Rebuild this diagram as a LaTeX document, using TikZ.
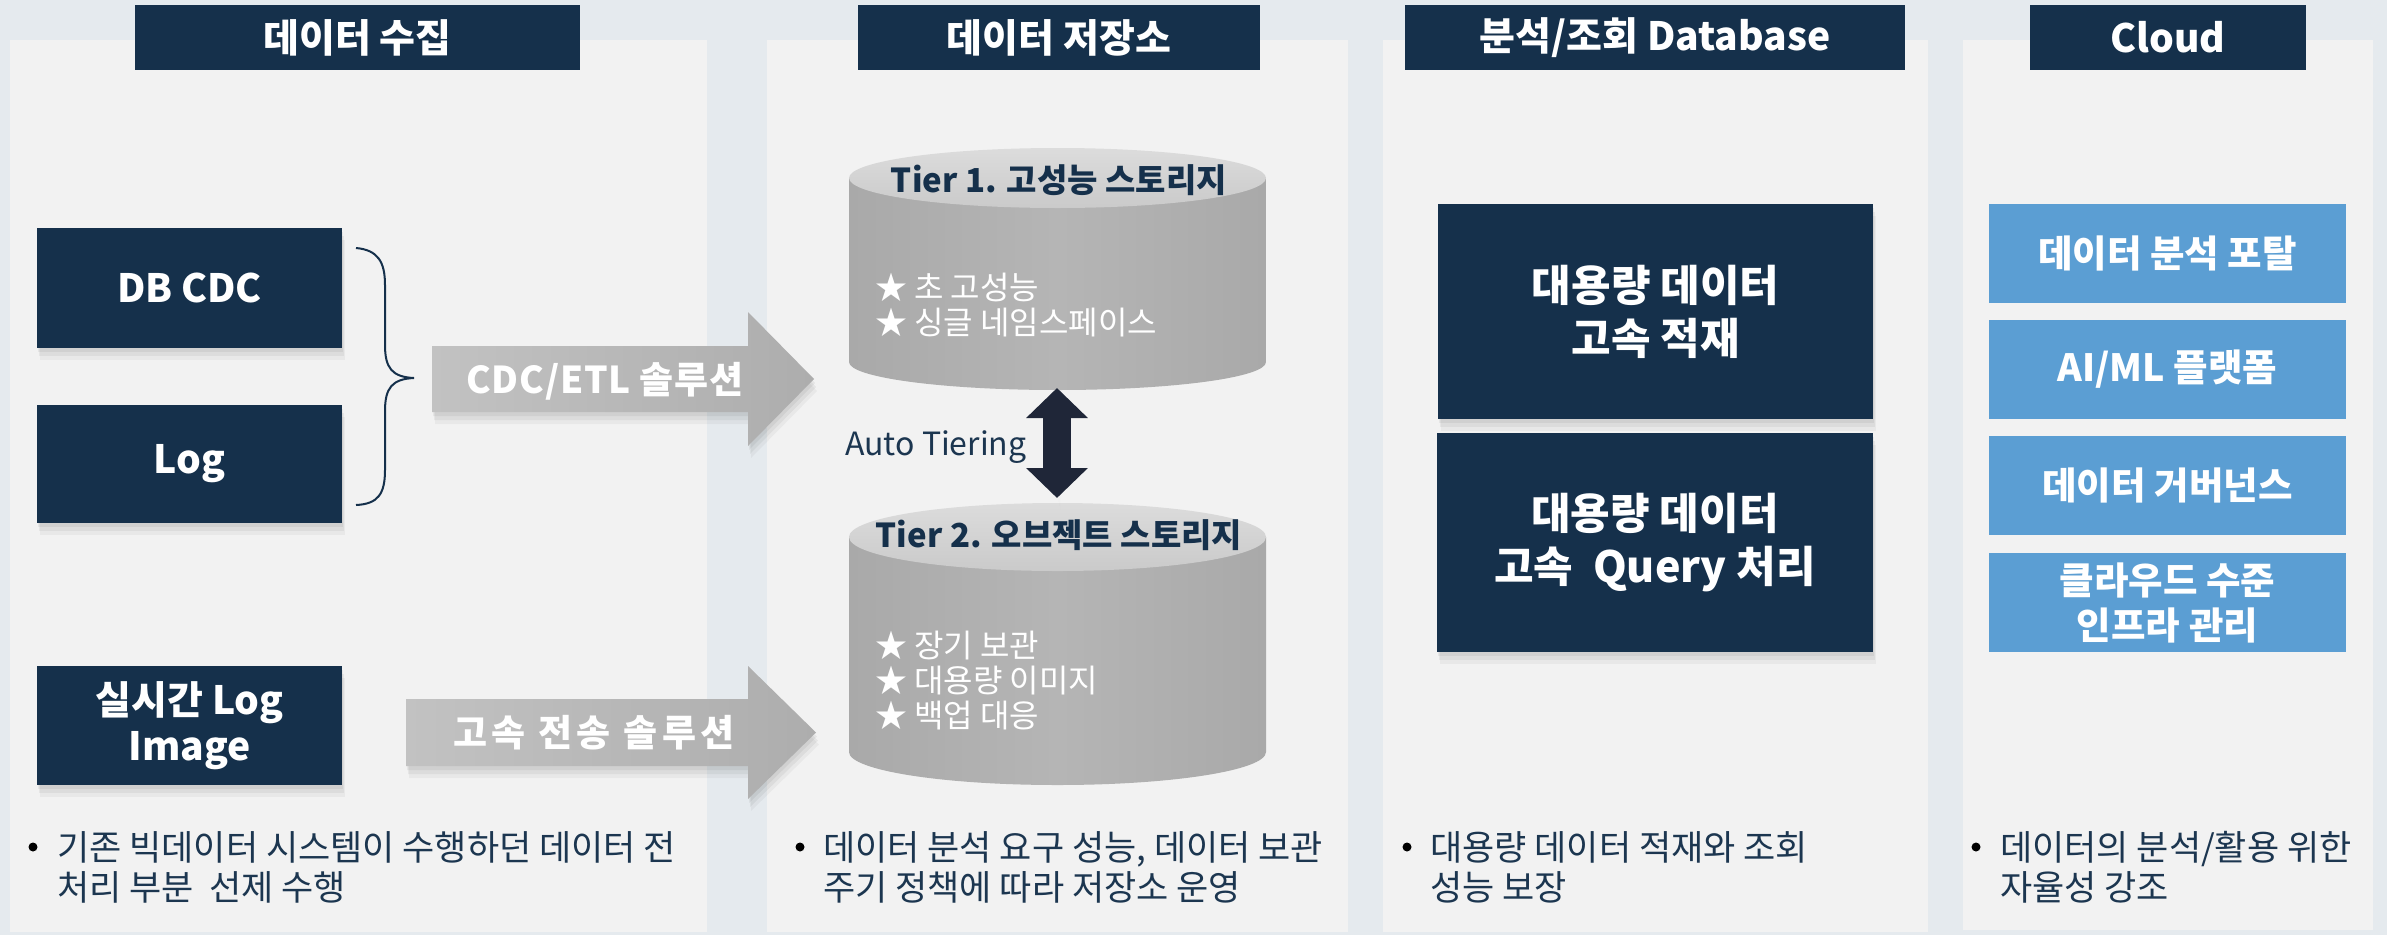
\documentclass[tikz,border=0pt]{standalone}
\usepackage{fontspec}
\setmainfont{Noto Sans CJK KR}
\usetikzlibrary{shadows,arrows.meta}
\definecolor{bgc}{HTML}{E5EAEE}
\definecolor{panelc}{HTML}{F2F2F2}
\definecolor{navy}{HTML}{15304B}
\definecolor{skyb}{HTML}{5B9ED3}
\definecolor{txtnavy}{HTML}{1C3650}
\definecolor{darr}{HTML}{1F2638}
\definecolor{cylside}{HTML}{A9A9A9}
\definecolor{cylmid}{HTML}{B5B5B5}
\definecolor{cyltopa}{HTML}{DCDCDC}
\definecolor{cyltopb}{HTML}{CACACA}
\definecolor{arra}{HTML}{C2C2C2}
\definecolor{arrb}{HTML}{ADADAD}
\tikzset{
  softshadow/.style={
    general shadow={fill=black, opacity=0.05, shadow yshift=-4pt, shadow xshift=1pt},
    general shadow={fill=black, opacity=0.05, shadow yshift=-8pt, shadow xshift=2pt},
    general shadow={fill=black, opacity=0.04, shadow yshift=-12pt, shadow xshift=3pt}},
  titlebox/.style={fill=navy, text=white, inner sep=0pt, font=\bfseries\fontsize{39}{46}\selectfont},
  navybox/.style={fill=navy, text=white, inner sep=0pt, align=center, softshadow, font=\bfseries\fontsize{39}{46}\selectfont},
  dbbox/.style={fill=navy, text=white, inner sep=0pt, align=center, softshadow, font=\bfseries\fontsize{43}{53}\selectfont},
  cloudbox/.style={fill=skyb, text=white, inner sep=0pt, align=center, font=\bfseries\fontsize{37.5}{45}\selectfont},
  arrowtext/.style={text=white, inner sep=0pt, text height=32pt, text depth=4pt, font=\bfseries\fontsize{37}{44}\selectfont},
  grayarrow/.style={left color=arra, right color=arrb, softshadow},
  cylbody/.style={left color=cylside, right color=cylside, middle color=cylmid},
  cyltop/.style={top color=cyltopa, bottom color=cyltopb},
  cyltitle/.style={text=navy, inner sep=0pt, text height=29pt, text depth=4pt, font=\bfseries\fontsize{33}{40}\selectfont},
  starline/.style={text=white, inner sep=0pt, anchor=west, text height=28.2pt, text depth=3.8pt, font=\fontsize{32}{35}\selectfont},
  bline/.style={text=txtnavy, inner sep=0pt, anchor=west, text height=30.8pt, text depth=4.2pt, font=\fontsize{35}{40}\selectfont},
  bdot/.style={circle, fill=black, inner sep=0pt, minimum size=9pt},
  tierlabel/.style={text=txtnavy, inner sep=0pt, anchor=west, text height=28pt, text depth=4pt, font=\fontsize{32}{40}\selectfont},
}
\begin{document}
\begin{tikzpicture}[x=1pt,y=1pt]
\useasboundingbox (0,0) rectangle (2387,-935);
\fill[bgc] (0,0) rectangle (2387,-935);
% panels
\fill[panelc] (10,-40) rectangle (707,-932);
\fill[panelc] (767,-40) rectangle (1348,-932);
\fill[panelc] (1383,-40) rectangle (1928,-932);
\fill[panelc] (1963,-40) rectangle (2373,-930);
% titles
\node[titlebox, minimum width=445pt, minimum height=65pt] (t1) at (357.5,-37.5) {데이터 수집};
\node[titlebox, minimum width=402pt, minimum height=65pt] (t2) at (1059,-37.5) {데이터 저장소};
\node[titlebox, minimum width=500pt, minimum height=65pt] (t3) at (1655,-37.5) {분석/조회 Database};
\node[titlebox, minimum width=276pt, minimum height=65pt] (t4) at (2168,-37.5) {Cloud};
% source boxes
\node[navybox, minimum width=305pt, minimum height=120pt] (dbcdc) at (189.5,-288) {DB CDC};
\node[navybox, minimum width=305pt, minimum height=118pt] (log) at (189.5,-464) {Log};
\node[navybox, minimum width=305pt, minimum height=119pt] (rtlog) at (189.5,-725.5) {실시간 Log\\Image};
% brace
\coordinate (brt) at (356,-248);
\coordinate (brtip) at (414,-378);
\coordinate (brb) at (356,-505);
\draw[navy, line width=2pt] (brt) .. controls (378,-250) and (385,-262) .. (385,-285) -- (385,-345)
  .. controls (385,-368) and (392,-377) .. (brtip)
  .. controls (392,-379) and (385,-388) .. (385,-411) -- (385,-470)
  .. controls (385,-494) and (378,-504) .. (brb);
% gray arrows
\shade[grayarrow] (432,-346) -- (748,-346) -- (748,-312) -- (814,-379) -- (748,-446) -- (748,-412) -- (432,-412) -- cycle;
\node[arrowtext] (a1) at (605,-379) {\addfontfeature{LetterSpace=2}CDC/ETL 솔루션};
\shade[grayarrow] (406,-699) -- (748,-699) -- (748,-666) -- (816,-732.5) -- (748,-799) -- (748,-766) -- (406,-766) -- cycle;
\node[arrowtext] (a2) at (594,-732.5) {\addfontfeature{LetterSpace=12}고속 전송 솔루션};
% cylinder 1
\shade[cylbody] (849,-178) -- (849,-362) arc[start angle=180, end angle=360, x radius=208.5, y radius=28] -- (1266,-178) -- cycle;
\shade[cyltop] (1057.5,-178) ellipse [x radius=208.5, y radius=30];
\node[cyltitle] (c1t) at (1059,-180) {Tier 1. 고성능 스토리지};
\node[starline] (c1s1) at (875,-287) {★ 초 고성능};
\node[starline] (c1s2) at (875,-322) {★ 싱글 네임스페이스};
% cylinder 2
\shade[cylbody] (849,-537) -- (849,-752) arc[start angle=180, end angle=360, x radius=208.5, y radius=33] -- (1266,-537) -- cycle;
\shade[cyltop] (1057.5,-537) ellipse [x radius=208.5, y radius=34];
\node[cyltitle] (c2t) at (1059,-535) {Tier 2. 오브젝트 스토리지};
\node[starline] (c2s1) at (875,-645) {★ 장기 보관};
\node[starline] (c2s2) at (875,-680) {★ 대용량 이미지};
\node[starline] (c2s3) at (875,-715) {★ 백업 대응};
% auto tiering
\coordinate (dtop) at (1057,-388);
\coordinate (dbot) at (1057,-498);
\draw[darr, line width=28pt, {Triangle[width=60pt,length=30pt]}-{Triangle[width=60pt,length=30pt]}, softshadow] (dtop) -- (dbot);
\node[tierlabel] (at) at (845,-443) {Auto Tiering};
% database boxes
\node[dbbox, minimum width=435pt, minimum height=215pt] (db1) at (1655.5,-311.5) {대용량 데이터\\고속 적재};
\node[dbbox, minimum width=436pt, minimum height=219pt] (db2) at (1655,-542.5) {대용량 데이터\\고속~ Query 처리};
% cloud boxes
\node[cloudbox, minimum width=357pt, minimum height=99pt] (cl1) at (2167.5,-253.5) {데이터 분석 포탈};
\node[cloudbox, minimum width=357pt, minimum height=99pt] (cl2) at (2167.5,-369.5) {AI/ML 플랫폼};
\node[cloudbox, minimum width=357pt, minimum height=99pt] (cl3) at (2167.5,-485.5) {데이터 거버넌스};
\node[cloudbox, minimum width=357pt, minimum height=99pt] (cl4) at (2167.5,-602.5) {클라우드 수준\\인프라 관리};
% bullets
\node[bdot] (b1d) at (33,-847) {};
\node[bline] (b1a) at (57,-847) {기존 빅데이터 시스템이 수행하던 데이터 전};
\node[bline] (b1b) at (57,-887) {처리 부분~ 선제 수행};
\node[bdot] (b2d) at (800,-847) {};
\node[bline] (b2a) at (823,-847) {데이터 분석 요구 성능, 데이터 보관};
\node[bline] (b2b) at (823,-887) {주기 정책에 따라 저장소 운영};
\node[bdot] (b3d) at (1407,-847) {};
\node[bline] (b3a) at (1430,-847) {대용량 데이터 적재와 조회};
\node[bline] (b3b) at (1430,-887) {성능 보장};
\node[bdot] (b4d) at (1976,-847) {};
\node[bline] (b4a) at (2000,-847) {데이터의 분석/활용 위한};
\node[bline] (b4b) at (2000,-887) {자율성 강조};
\end{tikzpicture}
\end{document}
